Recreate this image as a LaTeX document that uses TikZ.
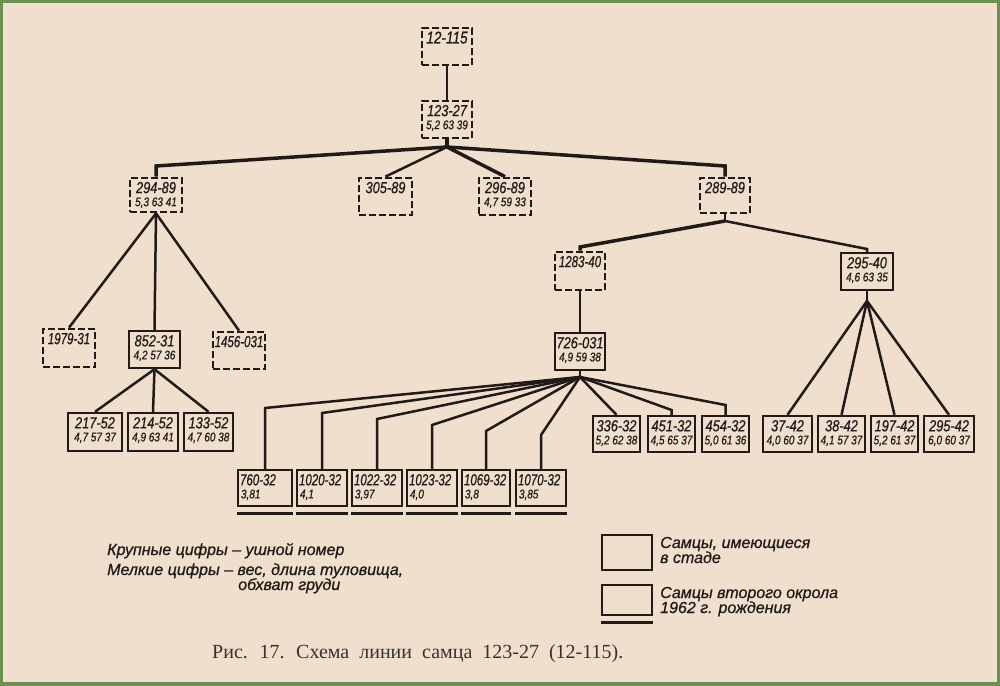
\documentclass[tikz,border=0pt]{standalone}
\usepackage{fontspec}
\setmainfont{Liberation Serif}
\newfontfamily\hand[FakeStretch=0.8,FakeBold=0.6]{Liberation Sans}
\newfontfamily\handn[FakeStretch=0.72,FakeBold=0.6]{Liberation Sans}
\newfontfamily\handw[FakeBold=0.8]{Liberation Sans}
\definecolor{paper}{RGB}{240,223,204}
\definecolor{ink}{RGB}{32,27,25}
\definecolor{framec}{RGB}{105,145,80}
\tikzset{
  dbox/.style={draw=ink, line width=2.8pt, dash pattern=on 7pt off 3pt, inner sep=0pt},
  sbox/.style={draw=ink, line width=2.4pt, inner sep=0pt},
  link/.style={draw=ink, line width=2.5pt},
  trunk/.style={draw=ink, line width=3.5pt},
  toplbl/.style={font=\hand\itshape\fontsize{16}{16}\selectfont, text=ink, inner sep=0pt},
  nrwlbl/.style={font=\handn\itshape\fontsize{16}{16}\selectfont, text=ink, inner sep=0pt},
  botlbl/.style={font=\hand\itshape\fontsize{12.5}{12.5}\selectfont, text=ink, inner sep=0pt},
  legend/.style={font=\handw\itshape\fontsize{16}{16}\selectfont, text=ink, inner sep=0pt, anchor=base west},
  uline/.style={draw=ink, line width=3.2pt}
}
% one-line box
\newcommand\bxa[8][toplbl]{%
  \node[#7, minimum width={#5pt-#3pt}, minimum height={#6pt-#4pt}] (#2) at ({(#3+#5)/2},{(#4+#6)/2}) {};
  \node[#1] (#2t) at ([yshift=-11pt]#2.north) {#8};}
% two-line box, centred
\newcommand\bxb[8]{%
  \node[#6, minimum width={#4pt-#2pt}, minimum height={#5pt-#3pt}] (#1) at ({(#2+#4)/2},{(#3+#5)/2}) {};
  \node[toplbl] (#1t) at ([yshift=-11pt]#1.north) {#7};
  \node[botlbl] (#1b) at ([yshift=-26pt]#1.north) {#8};}
% two-line box, left aligned, underlined
\newcommand\bxl[7]{%
  \node[sbox, minimum width={#4pt-#2pt}, minimum height={#5pt-#3pt}] (#1) at ({(#2+#4)/2},{(#3+#5)/2}) {};
  \node[nrwlbl, anchor=west] (#1t) at ([xshift=3pt,yshift=-11pt]#1.north west) {#6};
  \node[botlbl, anchor=west] (#1b) at ([xshift=4pt,yshift=-26pt]#1.north west) {#7};
  \draw[uline] ([yshift=-6pt]#1.south west) -- ([yshift=-6pt]#1.south east);}
\begin{document}
\begin{tikzpicture}[x=1pt,y=-1pt]
\useasboundingbox (0,0) rectangle (1000,685);
\fill[paper] (0,0) rectangle (1000,685);
\draw[framec, line width=6pt] (0,0) rectangle (1000,685);

% ---- boxes ----
\bxa{a}{422}{28}{472}{65}{dbox}{\fontsize{17}{17}\selectfont 12-115}
\bxb{b}{422}{101}{472}{138}{dbox}{123-27}{5,2 63 39}
\bxb{c1}{130}{178}{182}{212}{dbox}{294-89}{5,3 63 41}
\bxa{c2}{359}{178}{412}{215}{dbox}{305-89}
\bxb{c3}{479}{178}{531}{215}{dbox}{296-89}{4,7 59 33}
\bxa{c4}{700}{178}{750}{213}{dbox}{289-89}
\bxa[nrwlbl]{d1}{555}{252}{605}{290}{dbox}{1283-40}
\bxb{d2}{841}{253}{893}{290}{sbox}{295-40}{4,6 63 35}
\bxa[nrwlbl]{e1}{43}{329}{95}{367}{dbox}{1979-31}
\bxb{e2}{129}{331}{180}{368}{sbox}{852-31}{4,2 57 36}
\bxa[nrwlbl]{e3}{213}{332}{265}{369}{dbox}{1456-031}
\bxb{e4}{555}{333}{605}{370}{sbox}{726-031}{4,9 59 38}
\bxb{f1}{68}{413}{122}{451}{sbox}{217-52}{4,7 57 37}
\bxb{f2}{128}{413}{178}{451}{sbox}{214-52}{4,9 63 41}
\bxb{f3}{184}{413}{233}{451}{sbox}{133-52}{4,7 60 38}
\bxb{g1}{593}{416}{640}{452}{sbox}{336-32}{5,2 62 38}
\bxb{g2}{648}{416}{695}{452}{sbox}{451-32}{4,5 65 37}
\bxb{g3}{702}{416}{749}{452}{sbox}{454-32}{5,0 61 36}
\bxb{h1}{763}{416}{812}{452}{sbox}{37-42}{4,0 60 37}
\bxb{h2}{818}{416}{865}{452}{sbox}{38-42}{4,1 57 37}
\bxb{h3}{871}{416}{918}{452}{sbox}{197-42}{5,2 61 37}
\bxb{h4}{924}{416}{974}{452}{sbox}{295-42}{6,0 60 37}
\bxl{k1}{238}{470}{292}{506}{760-32}{3,81}
\bxl{k2}{297}{470}{347}{506}{1020-32}{4,1}
\bxl{k3}{352}{470}{402}{506}{1022-32}{3,97}
\bxl{k4}{407}{470}{457}{506}{1023-32}{4,0}
\bxl{k5}{462}{470}{510}{506}{1069-32}{3,8}
\bxl{k6}{516}{470}{566}{506}{1070-32}{3,85}

% ---- junctions and elbows ----
\coordinate (j1) at (447,147);
\coordinate (j1l) at (156,166);
\coordinate (j1r) at (725,166);
\coordinate (j2) at (725,221);
\coordinate (j2l) at (580,247);
\coordinate (j2r) at (867,249);
\coordinate (j3) at (580,377);
\coordinate (j4) at (867,301);
\coordinate (m1) at (265,408);
\coordinate (m2) at (322,413);
\coordinate (m3) at (377,419);
\coordinate (m4) at (432,425);
\coordinate (m5) at (486,431);
\coordinate (m6) at (541,435);
\coordinate (m7) at (671.5,410);
\coordinate (m8) at (725.5,405);

% ---- connectors ----
\draw[link] (a.south) -- (b.north);
\draw[trunk] (b.south) -- (j1);
\draw[trunk] (j1) -- (j1l) -- (c1.north);
\draw[trunk] (j1) -- (j1r) -- (c4.north);
\draw[link] (j1) -- (c2.north);
\draw[trunk] (j1) -- (c3.north);
\draw[link] (c4.south) -- (j2);
\draw[trunk] (j2) -- (j2l) -- (d1.north);
\draw[link] (j2) -- (j2r) -- (d2.north);
\draw[link] (c1.south) -- (e1.north);
\draw[link] (c1.south) -- (e2.north);
\draw[link] (c1.south) -- (e3.north);
\draw[link] (e2.south) -- (f1.north);
\draw[link] (e2.south) -- (f2.north);
\draw[link] (e2.south) -- (f3.north);
\draw[link] (d1.south) -- (e4.north);
\draw[link] (e4.south) -- (j3);
\draw[link] (j3) -- (m1) -- (k1.north);
\draw[link] (j3) -- (m2) -- (k2.north);
\draw[link] (j3) -- (m3) -- (k3.north);
\draw[link] (j3) -- (m4) -- (k4.north);
\draw[link] (j3) -- (m5) -- (k5.north);
\draw[link] (j3) -- (m6) -- (k6.north);
\draw[link] (j3) -- (g1.north);
\draw[link] (j3) -- (m7) -- (g2.north);
\draw[link] (j3) -- (m8) -- (g3.north);
\draw[link] (d2.south) -- (j4);
\draw[link] (j4) -- (h1.north);
\draw[link] (j4) -- (h2.north);
\draw[link] (j4) -- (h3.north);
\draw[link] (j4) -- (h4.north);

% ---- legend ----
\node[legend] (l1) at (107,555) {Крупные цифры – ушной номер};
\node[legend] (l2) at (107,575) {Мелкие цифры – вес, длина туловища,};
\node[legend] (l3) at (238,590) {обхват груди};
\node[sbox, line width=2.8pt, minimum width=50pt, minimum height=35pt] (lb1) at (627,552.5) {};
\node[sbox, line width=2.8pt, minimum width=50pt, minimum height=30pt] (lb2) at (627,600) {};
\draw[uline] ([yshift=-6pt]lb2.south west) -- ([yshift=-6pt]lb2.south east);
\node[legend] (l4) at (660,548) {Самцы, имеющиеся};
\node[legend] (l5) at (660,563) {в стаде};
\node[legend] (l6) at (660,598) {Самцы второго окрола};
\node[legend] (l7) at (660,613) {1962 г. рождения};

% ---- caption ----
\node[font=\fontsize{20}{20}\selectfont, text=ink!90, anchor=base west, inner sep=0pt] (cap) at (212,658) {Рис.~ 17.~ Схема~ линии~ самца~ 123-27~ (12-115).};
\end{tikzpicture}
\end{document}
